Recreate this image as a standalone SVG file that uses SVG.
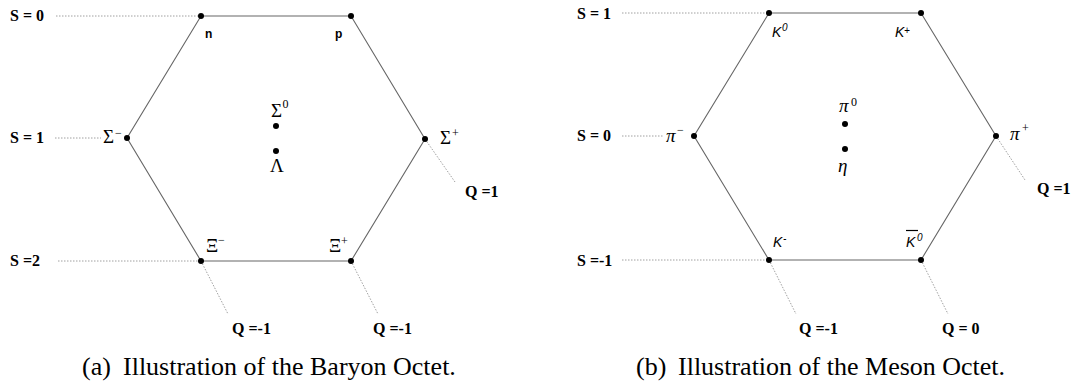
<svg xmlns="http://www.w3.org/2000/svg" width="1072" height="383" viewBox="0 0 1072 383">
<style>
.edge{stroke:#666;stroke-width:1.1;fill:none}
.dot{stroke:#888;stroke-width:0.8;stroke-dasharray:1.5 1.5;fill:none}
.ax{font-family:"Liberation Serif",serif;font-weight:bold;font-size:16px;fill:#000}
.gr{font-family:"Liberation Serif",serif;font-size:19px;fill:#000}
.grs{font-family:"Liberation Serif",serif;font-size:12px;fill:#000}
.gri{font-family:"Liberation Serif",serif;font-style:italic;font-size:19px;fill:#000}
.kn{font-family:"Liberation Sans",sans-serif;font-style:italic;font-size:14px;fill:#000}
.kns{font-family:"Liberation Sans",sans-serif;font-style:italic;font-size:10px;fill:#000}
.nb{font-family:"Liberation Sans",sans-serif;font-weight:bold;font-size:12px;fill:#000}
.cap{font-family:"Liberation Serif",serif;font-size:26px;fill:#000}
circle{fill:#000}
</style>
<g id="connectors">
<polygon class="edge" points="201,16 351,16 425,139 351,261 201,261 127,138"/>
<line class="dot" x1="56" y1="16" x2="201" y2="16"/>
<line class="dot" x1="55" y1="138" x2="101" y2="138"/>
<line class="dot" x1="58" y1="261" x2="201" y2="261"/>
<line class="dot" x1="425" y1="139" x2="455" y2="182"/>
<line class="dot" x1="201" y1="261" x2="228" y2="314"/>
<line class="dot" x1="351" y1="261" x2="378" y2="314"/>
<polygon class="edge" points="769,13 921,13 996,136 921,260 769,260 694,136"/>
<line class="dot" x1="622" y1="13" x2="769" y2="13"/>
<line class="dot" x1="622" y1="136" x2="663" y2="136"/>
<line class="dot" x1="622" y1="260" x2="769" y2="260"/>
<line class="dot" x1="996" y1="136" x2="1025" y2="180"/>
<line class="dot" x1="769" y1="260" x2="796" y2="314"/>
<line class="dot" x1="921" y1="260" x2="948" y2="314"/>
</g>
<g id="baryon-axes">
<text class="ax" x="10" y="21">S = 0</text>
<text class="ax" x="10" y="143">S = 1</text>
<text class="ax" x="10" y="266">S =2</text>
<text class="ax" x="465" y="197">Q =1</text>
<text class="ax" x="232" y="334">Q =-1</text>
<text class="ax" x="373" y="334">Q =-1</text>
</g>
<g id="n"><circle cx="201" cy="16" r="3"/><text class="nb" x="205" y="38">n</text></g>
<g id="p"><circle cx="351" cy="16" r="3"/><text class="nb" x="335" y="38">p</text></g>
<g id="sigma-minus"><circle cx="127" cy="138" r="3"/><text class="gr" x="103" y="143">Σ</text><text class="grs" x="115" y="137">−</text></g>
<g id="sigma-plus"><circle cx="425" cy="139" r="3"/><text class="gr" x="440" y="144">Σ</text><text class="grs" x="452" y="137">+</text></g>
<g id="sigma-zero"><circle cx="276" cy="126" r="3"/><text class="gr" x="271" y="117">Σ</text><text class="grs" x="282.5" y="108">0</text></g>
<g id="lambda"><circle cx="276" cy="151" r="3"/><text class="gr" x="270" y="172">Λ</text></g>
<g id="xi-minus"><circle cx="201" cy="261" r="3"/><text class="gr" x="206" y="252">Ξ</text><text class="grs" x="218" y="244">−</text></g>
<g id="xi-plus"><circle cx="351" cy="261" r="3"/><text class="gr" x="329" y="252">Ξ</text><text class="grs" x="341" y="245">+</text></g>
<g id="meson-axes">
<text class="ax" x="577" y="19">S = 1</text>
<text class="ax" x="577" y="141">S = 0</text>
<text class="ax" x="577" y="266">S =-1</text>
<text class="ax" x="1037" y="194">Q =1</text>
<text class="ax" x="799" y="334">Q =-1</text>
<text class="ax" x="942" y="334">Q = 0</text>
</g>
<g id="K0"><circle cx="769" cy="13" r="3"/><text class="kn" x="772" y="37">K</text><text class="kns" x="782" y="31">0</text></g>
<g id="Kplus"><circle cx="921" cy="13" r="3"/><text class="kn" x="895" y="37">K</text><text class="kns" x="904" y="34">+</text></g>
<g id="pi-minus"><circle cx="694" cy="136" r="3"/><text class="gri" x="666" y="142">π</text><text class="grs" x="677" y="134">−</text></g>
<g id="pi-plus"><circle cx="996" cy="136" r="3"/><text class="gri" x="1010" y="140">π</text><text class="grs" x="1022" y="132">+</text></g>
<g id="pi-zero"><circle cx="845" cy="124" r="3"/><text class="gri" x="839" y="112">π</text><text class="grs" x="851" y="106">0</text></g>
<g id="eta"><circle cx="845" cy="149" r="3"/><text class="gri" x="838" y="172">η</text></g>
<g id="Kminus"><circle cx="769" cy="260" r="3"/><text class="kn" x="773" y="247">K</text><text class="kns" x="783" y="242">-</text></g>
<g id="K0bar"><circle cx="921" cy="260" r="3"/><text class="kn" x="906" y="247">K</text><line x1="906" y1="230.5" x2="918" y2="230.5" stroke="#000" stroke-width="1.2"/><text class="kns" x="917" y="241">0</text></g>
<g id="captions">
<text class="cap" x="82" y="375">(a)</text>
<text class="cap" x="123" y="375">Illustration of the Baryon Octet.</text>
<text class="cap" x="636" y="375">(b)</text>
<text class="cap" x="678" y="375">Illustration of the Meson Octet.</text>
</g>
</svg>
